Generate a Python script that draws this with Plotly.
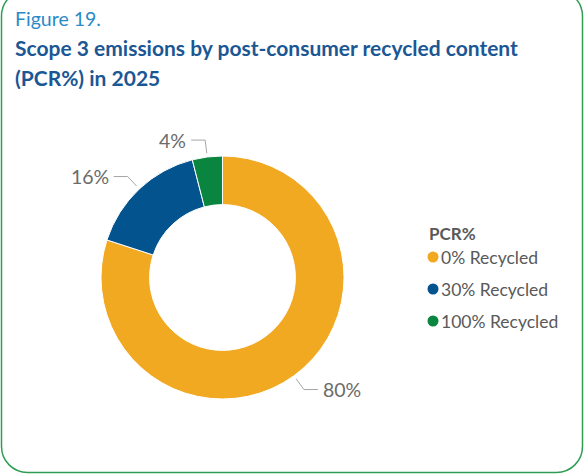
import math
import plotly.graph_objects as go

# Data
categories = ["0% Recycled", "30% Recycled", "100% Recycled"]
shares = [80, 16, 4]
colors = ["#F2A922", "#03538F", "#09853F"]

W, H = 584, 474
FONT = "Lato, 'Noto Sans', sans-serif"
GREY = "#6B6B6B"

# Donut geometry in pixels
cx, cy, R = 222.5, 277.5, 121.5


def px(x, y):
    return x / W, 1 - y / H


fig = go.Figure()
fig.add_trace(go.Pie(
    labels=categories,
    values=shares,
    hole=0.6,
    sort=False,
    direction="clockwise",
    rotation=0,
    textinfo="none",
    marker=dict(colors=colors, line=dict(color="white", width=1)),
    domain=dict(x=[(cx - R) / W, (cx + R) / W],
                y=[1 - (cy + R) / H, 1 - (cy - R) / H]),
    showlegend=False,
))

shapes = []
annotations = []

# Outside percentage labels with elbow leader lines
total = sum(shares)
cum = 0
for cat, v in zip(categories, shares):
    mid = (cum + v / 2) / total * 2 * math.pi
    cum += v
    sx, sy = math.sin(mid), -math.cos(mid)
    x0, y0 = cx + (R + 4) * sx, cy + (R + 4) * sy
    x1, y1 = cx + (R + 17) * sx, cy + (R + 17) * sy
    side = 1 if sx >= 0 else -1
    x2 = x1 + side * 14
    p0, p1, p2 = px(x0, y0), px(x1, y1), px(x2, y1)
    shapes.append(dict(
        type="path", xref="paper", yref="paper",
        path=f"M {p0[0]},{p0[1]} L {p1[0]},{p1[1]} L {p2[0]},{p2[1]}",
        line=dict(color="#A6A6A6", width=1),
    ))
    tx, ty = px(x2 + side * 3, y1)
    annotations.append(dict(
        x=tx, y=ty, xref="paper", yref="paper",
        xanchor="left" if side > 0 else "right", yanchor="middle",
        text=f"{v}%", showarrow=False,
        font=dict(family=FONT, size=19.5, color=GREY),
    ))

# Rounded frame
fl, fr, ft, fb, rad = 1.5, 582.5, -10, 472.5, 26
k = 0.5523 * rad


def P(x, y):
    a, b = px(x, y)
    return f"{a},{b}"


frame = (
    f"M {P(fl, ft + rad)} "
    f"C {P(fl, ft + rad - k)} {P(fl + rad - k, ft)} {P(fl + rad, ft)} "
    f"L {P(fr - rad, ft)} "
    f"C {P(fr - rad + k, ft)} {P(fr, ft + rad - k)} {P(fr, ft + rad)} "
    f"L {P(fr, fb - rad)} "
    f"C {P(fr, fb - rad + k)} {P(fr - rad + k, fb)} {P(fr - rad, fb)} "
    f"L {P(fl + rad, fb)} "
    f"C {P(fl + rad - k, fb)} {P(fl, fb - rad + k)} {P(fl, fb - rad)} Z"
)
shapes.append(dict(type="path", xref="paper", yref="paper", path=frame,
                   line=dict(color="#2E9E55", width=1.5)))

# Titles
for text, y, size, color in [
    ("Figure 19.", 19, 19.5, "#2A89C8"),
    ("<b>Scope 3 emissions by post-consumer recycled content</b>", 48, 21, "#1B5794"),
    ("<b>(PCR%) in 2025</b>", 77, 21, "#1B5794"),
]:
    x, yy = px(13, y)
    annotations.append(dict(x=x, y=yy, xref="paper", yref="paper",
                            xanchor="left", yanchor="middle", text=text,
                            showarrow=False,
                            font=dict(family=FONT, size=size, color=color)))

# Legend
lx, ly = px(427, 233)
annotations.append(dict(x=lx, y=ly, xref="paper", yref="paper",
                        xanchor="left", yanchor="middle", text="<b>PCR%</b>",
                        showarrow=False,
                        font=dict(family=FONT, size=17, color="#595959")))
for i, (cat, col) in enumerate(zip(categories, colors)):
    yy = 257 + 32 * i
    shapes.append(dict(type="circle", xref="paper", yref="paper",
                       x0=(433 - 5.5) / W, x1=(433 + 5.5) / W,
                       y0=1 - (yy + 5.5) / H, y1=1 - (yy - 5.5) / H,
                       fillcolor=col, line=dict(width=0)))
    tx, ty = px(439, yy)
    annotations.append(dict(x=tx, y=ty, xref="paper", yref="paper",
                            xanchor="left", yanchor="middle", text=cat,
                            showarrow=False,
                            font=dict(family=FONT, size=17.5, color="#595959")))

fig.update_layout(
    width=W, height=H,
    margin=dict(l=0, r=0, t=0, b=0),
    paper_bgcolor="white", plot_bgcolor="white",
    shapes=shapes, annotations=annotations,
    showlegend=False,
)

fig.write_html("out.html", config={"displayModeBar": False})
